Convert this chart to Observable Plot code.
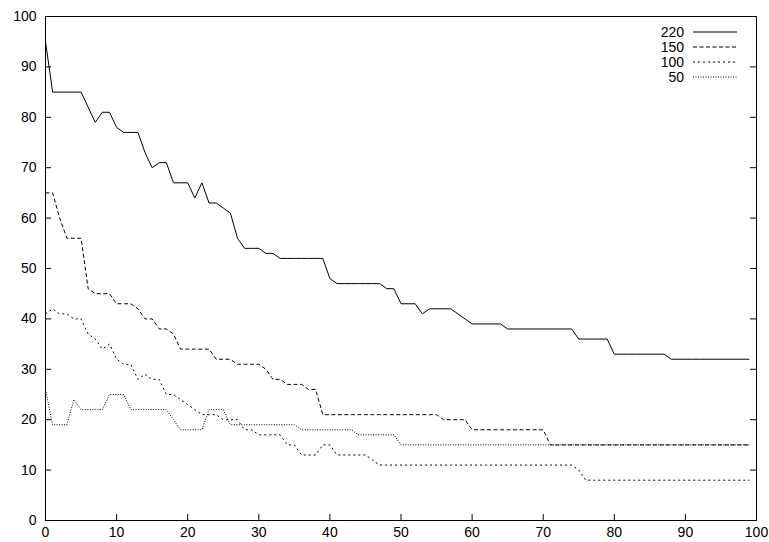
<!DOCTYPE html>
<html><head><meta charset="utf-8">
<script src="https://cdn.jsdelivr.net/npm/d3@7"></script>
<script src="https://cdn.jsdelivr.net/npm/@observablehq/plot@0.6"></script>
<style>body{margin:0;background:#fff}</style>
</head><body><div id="chart"></div>
<script>
const xValues = [0,1,2,3,4,5,6,7,8,9,10,11,12,13,14,15,16,17,18,19,20,21,22,23,24,25,26,27,28,29,30,31,32,33,34,35,36,37,38,39,40,41,42,43,44,45,46,47,48,49,50,51,52,53,54,55,56,57,58,59,60,61,62,63,64,65,66,67,68,69,70,71,72,73,74,75,76,77,78,79,80,81,82,83,84,85,86,87,88,89,90,91,92,93,94,95,96,97,98,99];
const s220 = [95,85,85,85,85,85,82,79,81,81,78,77,77,77,73,70,71,71,67,67,67,64,67,63,63,62,61,56,54,54,54,53,53,52,52,52,52,52,52,52,48,47,47,47,47,47,47,47,46,46,43,43,43,41,42,42,42,42,41,40,39,39,39,39,39,38,38,38,38,38,38,38,38,38,38,36,36,36,36,36,33,33,33,33,33,33,33,33,32,32,32,32,32,32,32,32,32,32,32,32];
const s150 = [65,65,60,56,56,56,46,45,45,45,43,43,43,42,40,40,38,38,37,34,34,34,34,34,32,32,32,31,31,31,31,30,28,28,27,27,27,26,26,21,21,21,21,21,21,21,21,21,21,21,21,21,21,21,21,21,20,20,20,20,18,18,18,18,18,18,18,18,18,18,18,15,15,15,15,15,15,15,15,15,15,15,15,15,15,15,15,15,15,15,15,15,15,15,15,15,15,15,15,15];
const s100 = [41,42,41,41,40,40,37,36,34,35,32,31,31,28,29,28,28,25,25,24,23,22,21,21,21,20,20,20,18,18,17,17,17,17,15,15,13,13,13,15,15,13,13,13,13,13,12,11,11,11,11,11,11,11,11,11,11,11,11,11,11,11,11,11,11,11,11,11,11,11,11,11,11,11,11,10,8,8,8,8,8,8,8,8,8,8,8,8,8,8,8,8,8,8,8,8,8,8,8,8];
const s50 = [26,19,19,19,24,22,22,22,22,25,25,25,22,22,22,22,22,22,20,18,18,18,18,22,22,22,19,19,19,19,19,19,19,19,19,19,18,18,18,18,18,18,18,18,17,17,17,17,17,17,15,15,15,15,15,15,15,15,15,15,15,15,15,15,15,15,15,15,15,15,15,15,15,15,15,15,15,15,15,15,15,15,15,15,15,15,15,15,15,15,15,15,15,15,15,15,15,15,15,15];
const seriesNames = ["220", "150", "100", "50"];
const xTicks = [0,10,20,30,40,50,60,70,80,90,100];
const yTicks = [0,10,20,30,40,50,60,70,80,90,100];

const seriesValues = [s220, s150, s100, s50];
const dashes = [null, "4,2.5", "2,3", "1,1.5"];

const W = 769, H = 542, mL = 45, mR = 13, mT = 16, mB = 22;
const fw = W - mL - mR, fh = H - mT - mB, tick = 6;

const marks = [];
seriesNames.forEach((name, i) => {
  const rows = xValues.map((x, j) => ({x, y: seriesValues[i][j], s: name}));
  marks.push(Plot.line(rows, {x: "x", y: "y", stroke: "black", strokeWidth: 1,
    strokeDasharray: dashes[i], strokeLinejoin: "miter", strokeLinecap: "butt"}));
});

const chart = Plot.plot({
  width: W, height: H,
  marginLeft: mL, marginRight: mR, marginTop: mT, marginBottom: mB,
  style: {fontFamily: "'Liberation Sans', Arial, sans-serif", fontSize: "14px", color: "black", background: "white"},
  x: {domain: [0, 100], label: null},
  y: {domain: [0, 100], label: null},
  marks: [
    Plot.axisX(xTicks, {tickSize: 0, tickPadding: 7, fontSize: 14, label: null}),
    Plot.axisY(yTicks, {tickSize: 0, tickPadding: 9, fontSize: 14, label: null}),
    Plot.tickX(xTicks, {x: d => d, insetTop: fh - tick, stroke: "black"}),
    Plot.tickY(yTicks, {y: d => d, insetRight: fw - tick, stroke: "black"}),
    Plot.tickY(yTicks, {y: d => d, insetLeft: fw - tick, stroke: "black"}),
    ...marks,
    Plot.frame({stroke: "black", strokeWidth: 1})
  ]
});
document.getElementById("chart").appendChild(chart);

// legend (top-right, inside the frame)
const svg = d3.select(chart);
const lg = svg.append("g").attr("font-family", "'Liberation Sans', Arial, sans-serif").attr("font-size", 14);
const lx = mL + fw - 63, rowH = 15, ly0 = mT + 16;
seriesNames.forEach((name, i) => {
  const y = ly0 + i * rowH;
  lg.append("text").attr("x", lx - 9).attr("y", y).attr("dy", "0.35em")
    .attr("text-anchor", "end").attr("fill", "black").text(name);
  lg.append("line").attr("x1", lx).attr("x2", lx + 44).attr("y1", y).attr("y2", y)
    .attr("stroke", "black").attr("stroke-width", 1)
    .attr("stroke-dasharray", dashes[i]);
});
</script>
</body></html>
